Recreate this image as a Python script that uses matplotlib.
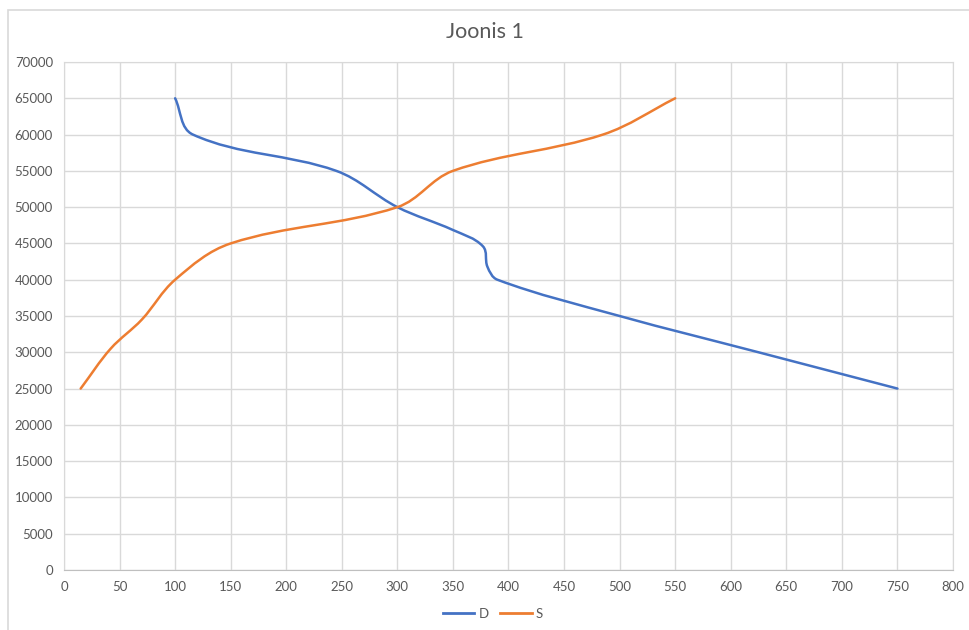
import matplotlib
matplotlib.use("Agg")
import matplotlib.pyplot as plt
from matplotlib.path import Path
from matplotlib.patches import PathPatch, Rectangle
from matplotlib.lines import Line2D
import numpy as np

plt.rcParams['font.family'] = ['Lato', 'DejaVu Sans']

# values
d_x = [100, 116, 245, 300, 350, 377, 381, 390, 500, 625, 750]
d_y = [65000, 60000, 55000, 50000, 46850, 44600, 41800, 40000, 35000, 30000, 25000]
s_x = [15, 42, 70, 100, 150, 300, 350, 485, 550]
s_y = [25000, 30500, 34500, 40000, 45000, 50000, 55000, 60000, 65000]

x_ticks = list(range(0, 801, 50))
y_ticks = list(range(0, 70001, 5000))

blue = '#4472c4'
orange = '#ed7d31'
grey_txt = '#595959'
grid_c = '#d9d9d9'

# pixels per data unit, so the smoothing works in screen space like excel
sx = 889 / 800
sy = 508 / 70000


def smooth_path(xs, ys, k=0.35):
    # smoothed line: cubic bezier through every point, tangents scaled by segment length
    pts = np.column_stack([np.array(xs) * sx, np.array(ys) * sy]).astype(float)
    n = len(pts)
    dirs = []
    for i in range(n):
        a = pts[max(i - 1, 0)]
        b = pts[min(i + 1, n - 1)]
        d = b - a
        dirs.append(d / np.hypot(*d))
    verts = [pts[0]]
    codes = [Path.MOVETO]
    for i in range(n - 1):
        seg = np.hypot(*(pts[i + 1] - pts[i]))
        c1 = pts[i] + dirs[i] * seg * k
        c2 = pts[i + 1] - dirs[i + 1] * seg * k
        verts += [c1, c2, pts[i + 1]]
        codes += [Path.CURVE4] * 3
    verts = np.array(verts) / [sx, sy]
    return Path(verts, codes)


fig = plt.figure(figsize=(9.7, 6.3), dpi=100)
ax = fig.add_axes([64 / 970, 60 / 630, 889 / 970, 508 / 630])

# chart border
fig.patches.append(Rectangle((8 / 970, -0.1), 1.0, 1.1 - 10 / 630, transform=fig.transFigure,
                             fill=False, edgecolor=grid_c, linewidth=1.2))

ax.add_patch(PathPatch(smooth_path(d_x, d_y), fill=False, edgecolor=blue, linewidth=1.8,
                       capstyle='round', zorder=3))
ax.add_patch(PathPatch(smooth_path(s_x, s_y), fill=False, edgecolor=orange, linewidth=1.8,
                       capstyle='round', zorder=3))

ax.set_xlim(0, 800)
ax.set_ylim(0, 70000)
ax.set_xticks(x_ticks)
ax.set_yticks(y_ticks)
ax.set_xticklabels([str(v) for v in x_ticks])
ax.set_yticklabels([str(v) for v in y_ticks])
ax.grid(True, color=grid_c, linewidth=1.0)
ax.set_axisbelow(True)
for side in ['top', 'right', 'left']:
    ax.spines[side].set_color(grid_c)
ax.spines['bottom'].set_color('#bfbfbf')
ax.tick_params(length=0, colors=grey_txt, labelsize=9.5, pad=8)

fig.text(0.5, 1 - 32 / 630, 'Joonis 1', ha='center', va='center', fontsize=15.5, color=grey_txt)

handles = [Line2D([], [], color=blue, linewidth=2), Line2D([], [], color=orange, linewidth=2)]
fig.legend(handles, ['D', 'S'], loc='center', bbox_to_anchor=(493 / 970, 1 - 614 / 630), ncol=2,
           frameon=False, fontsize=9.5, labelcolor=grey_txt, handlelength=2.4,
           handletextpad=0.3, columnspacing=0.9)

fig.savefig('out.png', dpi=100)
